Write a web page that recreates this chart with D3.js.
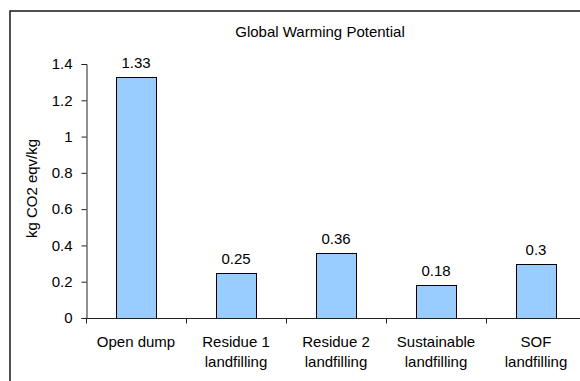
<!DOCTYPE html>
<html>
<head>
<meta charset="utf-8">
<script src="https://cdn.jsdelivr.net/npm/d3@7"></script>
<style>
  html, body { margin: 0; padding: 0; background: #fff; }
  svg { display: block; }
  text { font-family: "Liberation Sans", Arial, sans-serif; fill: #000; }
</style>
</head>
<body>
<svg id="chart" width="580" height="381"></svg>
<script>
const title = "Global Warming Potential";
const yLabel = "kg CO2 eqv/kg";
const categories = [
  ["Open dump"],
  ["Residue 1", "landfilling"],
  ["Residue 2", "landfilling"],
  ["Sustainable", "landfilling"],
  ["SOF", "landfilling"]
];
const values = [1.33, 0.25, 0.36, 0.18, 0.3];
const valueLabels = ["1.33", "0.25", "0.36", "0.18", "0.3"];
const yTicks = [0, 0.2, 0.4, 0.6, 0.8, 1, 1.2, 1.4];

const svg = d3.select("#chart");
const fs = 15;

// outer frame (cropped on right/bottom)
svg.append("rect")
  .attr("x", 10).attr("y", 11)
  .attr("width", 700).attr("height", 500)
  .attr("fill", "none").attr("stroke", "#262626").attr("stroke-width", 1.6);

const x = d3.scaleBand()
  .domain(categories.map((d, i) => i))
  .range([86, 586])
  .paddingInner(0.6).paddingOuter(0.3);

const y = d3.scaleLinear().domain([0, 1.4]).range([318, 64]);

// title
svg.append("text")
  .attr("x", 320).attr("y", 37)
  .attr("text-anchor", "middle")
  .style("font-size", fs + "px")
  .text(title);

// y axis label
svg.append("text")
  .attr("transform", "translate(37," + 188.5 + ") rotate(-90)")
  .attr("text-anchor", "middle")
  .style("font-size", fs + "px")
  .text(yLabel);

// y axis
const yAxis = svg.append("g")
  .attr("transform", "translate(86.5,0)")
  .call(d3.axisLeft(y).tickValues(yTicks).tickSize(5).tickPadding(9)
    .tickFormat(d => String(d)));
yAxis.selectAll("text").style("font-size", fs + "px").style("font-family", "Liberation Sans, Arial, sans-serif").attr("fill", "#000");
yAxis.selectAll("line, path").attr("stroke", "#222");

// bars
svg.append("g").selectAll("rect")
  .data(values)
  .join("rect")
  .attr("x", (d, i) => Math.round(x(i)) + 0.5)
  .attr("y", d => Math.round(y(d)) + 0.5)
  .attr("width", x.bandwidth())
  .attr("height", d => y(0) - Math.round(y(d)))
  .attr("fill", "#99CCFF")
  .attr("stroke", "#000")
  .attr("stroke-width", 1);

// x axis
const xLine = d3.scaleLinear().domain([0, categories.length]).range([86, 586]);
const xAxis = svg.append("g").attr("transform", "translate(0,318.5)");
xAxis.append("line")
  .attr("x1", 86).attr("x2", 586)
  .attr("stroke", "#222");
xAxis.selectAll("line.tick")
  .data(d3.range(categories.length + 1))
  .join("line")
  .attr("class", "tick")
  .attr("x1", d => Math.round(xLine(d)) + 0.5)
  .attr("x2", d => Math.round(xLine(d)) + 0.5)
  .attr("y1", 0).attr("y2", 5)
  .attr("stroke", "#222");

// category labels
svg.append("g").selectAll("text")
  .data(categories)
  .join("text")
  .attr("text-anchor", "middle")
  .style("font-size", fs + "px")
  .attr("x", (d, i) => x(i) + x.bandwidth() / 2)
  .attr("y", 347)
  .each(function(d) {
    const t = d3.select(this);
    d.forEach((line, j) => {
      t.append("tspan")
        .attr("x", t.attr("x"))
        .attr("dy", j === 0 ? 0 : 19.5)
        .text(line);
    });
  });

// value labels
svg.append("g").selectAll("text")
  .data(values)
  .join("text")
  .attr("text-anchor", "middle")
  .style("font-size", fs + "px")
  .attr("x", (d, i) => x(i) + x.bandwidth() / 2)
  .attr("y", d => y(d) - 9)
  .text((d, i) => valueLabels[i]);
</script>
</body>
</html>
